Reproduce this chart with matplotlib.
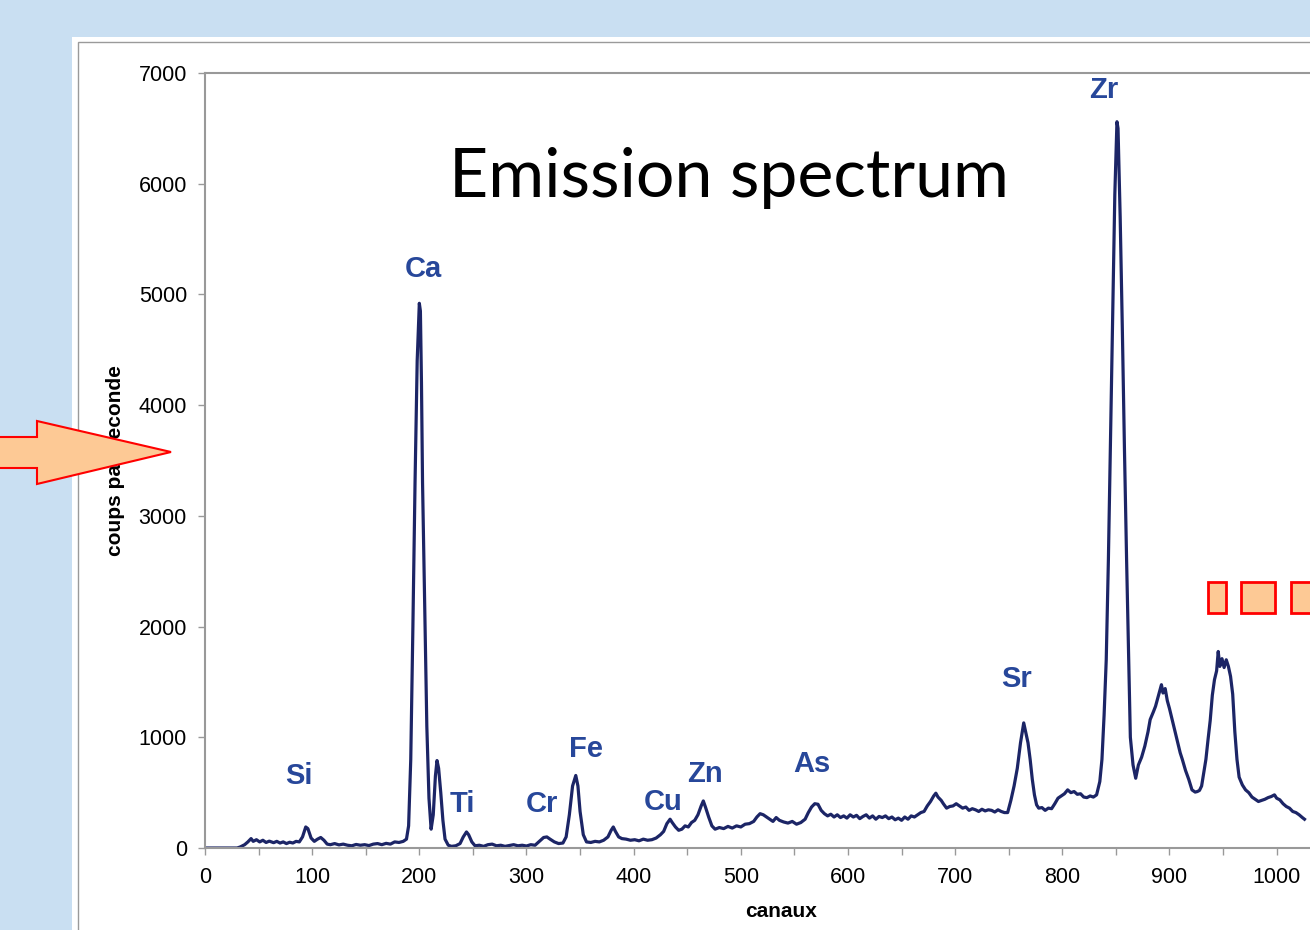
import matplotlib
matplotlib.use("Agg")
import matplotlib.pyplot as plt
from matplotlib.patches import Polygon, Rectangle
from matplotlib.ticker import MultipleLocator


# spectrum: channel, counts per second
CHANNELS = [
    0, 30, 33, 37, 40, 43, 45, 48, 51, 54, 57, 60, 64, 67, 70, 73, 76, 79, 82, 85,
    88, 91, 94, 96, 99, 102, 105, 108, 111, 114, 117, 121, 125, 129, 133, 137, 141, 145, 149, 153,
    157, 161, 165, 169, 173, 177, 181, 185, 188, 190, 192, 194, 196, 198, 200, 201, 202, 203, 205, 207,
    209, 211, 213, 215, 216.5, 218, 220, 222, 224, 227, 230, 234, 238, 241, 244, 246, 249, 252, 256, 260,
    264, 268, 272, 276, 280, 284, 288, 292, 296, 300, 304, 308, 312, 316, 319, 322, 326, 330, 334, 337,
    340, 343, 346, 348, 350, 353, 356, 360, 364, 368, 372, 376, 379, 381, 383, 386, 389, 393, 397, 401,
    405, 409, 413, 417, 421, 425, 428, 431, 434, 436, 439, 442, 445, 448, 451, 454, 457, 460, 463, 465,
    467, 470, 473, 476, 480, 484, 488, 492, 496, 500, 504, 508, 512, 515, 518, 521, 524, 527, 530, 533,
    536, 540, 544, 548, 552, 556, 560, 563, 566, 569, 572, 575, 578, 581, 584, 587, 590, 593, 596, 599,
    602, 605, 608, 611, 614, 617, 620, 623, 626, 629, 632, 635, 638, 641, 644, 647, 650, 653, 656, 659,
    662, 665, 668, 671, 674, 677, 680, 682, 684, 687, 689, 692, 695, 698, 701, 704, 707, 710, 713, 716,
    719, 722, 725, 728, 731, 734, 737, 740, 743, 746, 749, 752, 755, 758, 761, 764, 766, 768, 770, 772,
    774, 776, 778, 781, 784, 787, 790, 793, 796, 799, 802, 805, 808, 811, 814, 817, 820, 823, 826, 829,
    832, 835, 837, 839, 841, 843, 845, 847, 849, 851, 852, 854, 856, 858, 860, 862, 863.5, 866, 868.5, 871,
    874, 877, 880, 882, 885, 887, 889, 891, 892.5, 894, 896, 898, 900, 902, 904, 907, 910, 912, 915, 918,
    921, 924, 926, 928, 930, 932, 934, 936, 938, 940, 942, 944, 945.5, 947, 949, 951, 953, 955, 957, 959,
    961, 963, 965, 968, 971, 974, 977, 980, 983, 986, 989, 992, 995, 998, 1000, 1003, 1006, 1009, 1012, 1015,
    1018, 1021, 1024, 1026,
]
COUNTS = [
    0, 0, 10, 30, 55, 85, 60, 75, 55, 70, 50, 62, 48, 60, 45, 55, 40, 52, 45, 60,
    55, 100, 190, 175, 90, 60, 80, 95, 70, 35, 30, 40, 28, 35, 25, 20, 32, 25, 30, 22,
    35, 40, 30, 42, 35, 55, 50, 60, 80, 200, 800, 2000, 3300, 4400, 4920, 4850, 4200, 3300, 2200, 1100,
    450, 170, 300, 650, 790, 720, 500, 250, 80, 25, 15, 20, 40, 100, 145, 120, 55, 20, 25, 15,
    30, 35, 20, 25, 15, 22, 30, 20, 25, 18, 30, 25, 60, 95, 100, 80, 55, 40, 45, 100,
    300, 560, 655, 560, 330, 120, 55, 50, 60, 55, 70, 100, 160, 190, 150, 100, 85, 80, 70, 75,
    65, 80, 70, 75, 90, 120, 150, 220, 260, 230, 190, 160, 170, 200, 190, 230, 250, 300, 380, 425,
    370, 280, 200, 170, 185, 175, 195, 180, 200, 190, 215, 220, 240, 280, 310, 300, 280, 260, 240, 275,
    250, 235, 225, 240, 215, 230, 260, 320, 370, 400, 395, 340, 310, 290, 305, 280, 300, 275, 290, 270,
    300, 280, 295, 265, 285, 300, 270, 290, 260, 285, 275, 290, 265, 280, 255, 270, 250, 280, 260, 290,
    280, 300, 320, 330, 380, 420, 470, 495, 460, 430, 400, 360, 375, 380, 400, 380, 360, 370, 340, 355,
    345, 330, 350, 335, 345, 340, 325, 345, 330, 320, 320, 430, 560, 720, 950, 1130, 1040, 950, 800, 620,
    480, 390, 360, 365, 340, 360, 355, 400, 450, 470, 490, 525, 500, 510, 485, 490, 460, 455, 470, 460,
    480, 600, 800, 1200, 1700, 2600, 3700, 4800, 5900, 6560, 6500, 5700, 4700, 3600, 2600, 1700, 1000, 750, 630, 750,
    820, 920, 1050, 1160, 1230, 1280, 1350, 1420, 1475, 1400, 1440, 1330, 1260, 1180, 1100, 980, 860, 800, 700, 620,
    525, 505, 510, 520, 560, 680, 800, 980, 1150, 1380, 1520, 1600, 1775, 1640, 1710, 1630, 1700, 1640, 1550, 1390,
    1050, 800, 640, 570, 525, 500, 460, 440, 420, 430, 440, 455, 465, 480, 450, 435, 400, 375, 360, 330,
    320, 300, 275, 260,
]

# element labels and where they sit (channel, counts)
ELEMENTS = ["Si", "Ca", "Ti", "Cr", "Fe", "Cu", "Zn", "As", "Sr", "Zr"]
ELEMENT_X = [88, 203.5, 240, 314, 355.5, 427.5, 466.5, 566, 757, 839]
ELEMENT_Y = [650, 5230, 400, 400, 895, 415, 670, 760, 1525, 6850]

X_TICKS = [0, 100, 200, 300, 400, 500, 600, 700, 800, 900, 1000]
Y_TICKS = [0, 1000, 2000, 3000, 4000, 5000, 6000, 7000]

W, H = 1310, 930
LINE_COLOR = "#1c2566"
LABEL_COLOR = "#27479a"
ORANGE = "#fdc995"


def fx(px):
    return px / W


def fy(py):
    return 1 - py / H


plt.rcParams["font.family"] = ["Liberation Sans", "DejaVu Sans"]

fig = plt.figure(figsize=(W / 100, H / 100), dpi=100)
fig.patch.set_facecolor("#c9dff2")

# white slide panel with its thin grey frame
fig.add_artist(Rectangle((fx(72), 0), 1, fy(37), transform=fig.transFigure,
                         facecolor="white", edgecolor="none", zorder=0))
fig.add_artist(Rectangle((fx(78), -0.1), 1, fy(42.5) + 0.1, transform=fig.transFigure,
                         facecolor="none", edgecolor="#9a9a9a", linewidth=1, zorder=0.5))

ax = fig.add_axes([fx(205), fy(848), (1357 - 205) / W, (848 - 73) / H])
ax.set_facecolor("white")
ax.plot(CHANNELS, COUNTS, color=LINE_COLOR, linewidth=2.3, solid_joinstyle="round")

ax.set_xlim(0, 1075)
ax.set_ylim(0, 7000)
ax.set_xticks(X_TICKS)
ax.xaxis.set_minor_locator(MultipleLocator(50))
ax.set_yticks(Y_TICKS)

for side in ["left", "bottom", "top"]:
    ax.spines[side].set_color("#999999")
    ax.spines[side].set_linewidth(1.5)
ax.spines["right"].set_visible(False)

ax.tick_params(axis="both", which="both", direction="out", length=5, width=1,
               color="#999999", labelsize=15.5, labelcolor="black")
ax.tick_params(axis="y", pad=8)
ax.tick_params(axis="x", pad=9)

ax.set_xlabel("canaux", fontsize=15, fontweight="bold", labelpad=10)
ax.set_ylabel("coups par seconde", fontsize=15, fontweight="bold", labelpad=10)

for name, x, y in zip(ELEMENTS, ELEMENT_X, ELEMENT_Y):
    ax.text(x, y, name, color=LABEL_COLOR, fontsize=21, fontweight="bold",
            ha="center", va="center")

fig.text(fx(729), fy(197), "Emission spectrum", fontsize=49, family="Lato",
         color="black", ha="center", va="baseline")

# block arrow pointing at the y axis
arrow_px = [(-5, 437), (37, 437), (37, 421), (171, 452), (37, 484), (37, 468), (-5, 468)]
fig.add_artist(Polygon([(fx(x), fy(y)) for x, y in arrow_px], closed=True,
                       transform=fig.transFigure, facecolor=ORANGE,
                       edgecolor="red", linewidth=1.5, zorder=10))

# small boxes at the right edge
for x0, x1 in [(1208, 1226), (1241, 1275), (1291, 1325)]:
    fig.add_artist(Rectangle((fx(x0), fy(613)), fx(x1) - fx(x0), fy(582) - fy(613),
                             transform=fig.transFigure, facecolor=ORANGE,
                             edgecolor="red", linewidth=2, zorder=10))

fig.savefig("out.png", dpi=100)
